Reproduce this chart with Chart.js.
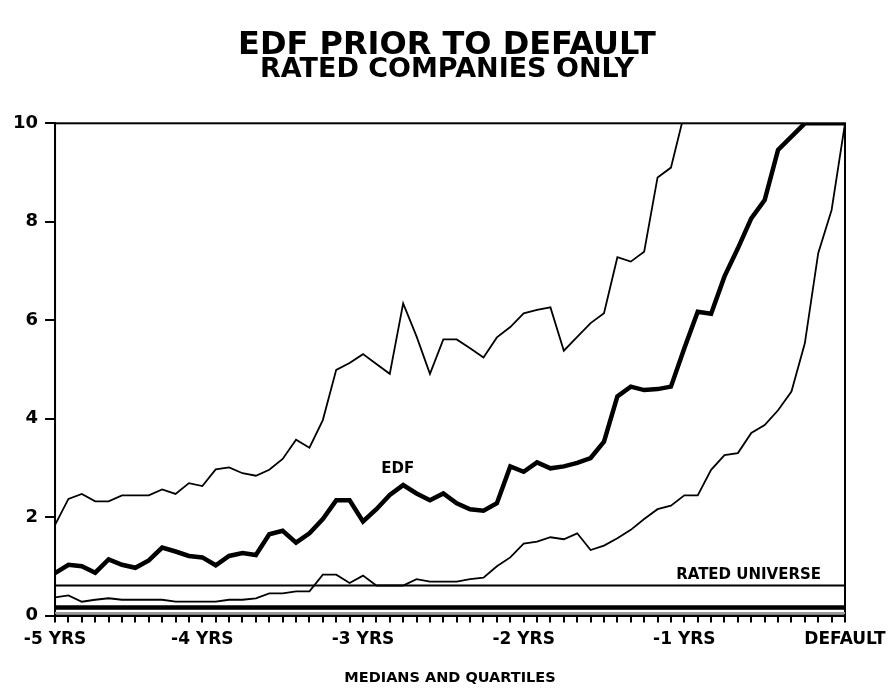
<!DOCTYPE html>
<html>
<head>
<meta charset="utf-8">
<title>EDF Prior To Default</title>
<script src="https://cdn.jsdelivr.net/npm/chart.js@4.4.1/dist/chart.umd.min.js"></script>
<style>
    body { margin: 0; background: #ffffff; }
    #wrap { width: 888px; height: 688px; }
</style>
</head>
<body>
<div id="wrap"><canvas id="edfChart"></canvas></div>
<script>
// months before default, one point per month
const months = [-59, -58, -57, -56, -55, -54, -53, -52, -51, -50,
                -49, -48, -47, -46, -45, -44, -43, -42, -41, -40,
                -39, -38, -37, -36, -35, -34, -33, -32, -31, -30,
                -29, -28, -27, -26, -25, -24, -23, -22, -21, -20,
                -19, -18, -17, -16, -15, -14, -13, -12, -11, -10,
                 -9,  -8,  -7,  -6,  -5,  -4,  -3,  -2,  -1,   0];

// upper quartile (runs off the top after about -12 months)
const upperQuartile = [1.84, 2.37, 2.47, 2.32, 2.32, 2.44, 2.44, 2.44, 2.56, 2.47,
                       2.69, 2.63, 2.97, 3.01, 2.89, 2.84, 2.96, 3.18, 3.57, 3.41,
                       3.97, 4.99, 5.13, 5.31, 5.11, 4.91, 6.34, 5.67, 4.91, 5.61,
                       5.61, 5.43, 5.24, 5.65, 5.86, 6.14, 6.21, 6.26, 5.38, 5.66,
                       5.94, 6.14, 7.28, 7.19, 7.39, 8.90, 9.10, 10.2, null, null,
                       null, null, null, null, null, null, null, null, null, null];

// median EDF (heavy line)
const medianEdf = [0.86, 1.03, 1.00, 0.87, 1.14, 1.03, 0.97, 1.12, 1.38, 1.30,
                   1.21, 1.18, 1.02, 1.21, 1.27, 1.23, 1.65, 1.72, 1.48, 1.67,
                   1.96, 2.34, 2.34, 1.91, 2.16, 2.45, 2.65, 2.48, 2.34, 2.48,
                   2.28, 2.16, 2.13, 2.28, 3.03, 2.92, 3.11, 2.99, 3.03, 3.10,
                   3.20, 3.53, 4.45, 4.65, 4.58, 4.60, 4.65, 5.43, 6.17, 6.13,
                   6.89, 7.46, 8.07, 8.44, 9.46, 9.73, 10, 10, 10, 10];

// lower quartile
const lowerQuartile = [0.37, 0.41, 0.28, 0.32, 0.35, 0.32, 0.32, 0.32, 0.32, 0.28,
                       0.28, 0.28, 0.28, 0.32, 0.32, 0.35, 0.45, 0.45, 0.49, 0.49,
                       0.83, 0.83, 0.66, 0.81, 0.61, 0.61, 0.61, 0.74, 0.69, 0.69,
                       0.69, 0.74, 0.77, 1.00, 1.18, 1.46, 1.50, 1.59, 1.55, 1.67,
                       1.33, 1.42, 1.57, 1.74, 1.96, 2.16, 2.23, 2.44, 2.44, 2.96,
                       3.26, 3.30, 3.71, 3.87, 4.17, 4.55, 5.53, 7.36, 8.24, 10];

// flat reference lines across the whole window
const refMonths = [-59, 0];
const ratedUniverse = [0.61, 0.61];
const universeMedian = [0.16, 0.16];
const universeLower = [0.05, 0.05];

// axis ticks
const yTicks = [0, 2, 4, 6, 8, 10];
const xTickMonths = [-59, -48, -36, -24, -12, 0];
const xTickLabels = ['-5 YRS', '-4 YRS', '-3 YRS', '-2 YRS', '-1 YRS', 'DEFAULT'];

const FONT = "'DejaVu Sans', 'Liberation Sans', sans-serif";

function toPoints(xs, ys) {
    return xs.map((x, i) => ({ x: x, y: ys[i] }));
}

function lineSet(label, xs, ys, width, color) {
    return {
        label: label,
        data: toPoints(xs, ys),
        borderColor: color,
        borderWidth: width,
        pointRadius: 0,
        tension: 0,
        fill: false,
        spanGaps: false
    };
}

// box round the plot and the two text notes
const notesPlugin = {
    id: 'notes',
    beforeDatasetsDraw(chart) {
        const a = chart.chartArea;
        const ctx = chart.ctx;
        ctx.save();
        ctx.strokeStyle = '#000';
        ctx.lineWidth = 2;
        ctx.strokeRect(a.left, a.top, a.right - a.left, a.bottom - a.top);
        ctx.restore();
    },
    afterDatasetsDraw(chart) {
        const ctx = chart.ctx;
        const x = chart.scales.x, y = chart.scales.y;
        ctx.save();
        ctx.fillStyle = '#000';
        ctx.textAlign = 'center';
        ctx.textBaseline = 'middle';
        ctx.font = "bold 15px " + FONT;
        ctx.fillText('EDF', x.getPixelForValue(-33.4), y.getPixelForValue(2.97));
        ctx.font = "bold 15px " + FONT;
        ctx.fillText('RATED UNIVERSE', x.getPixelForValue(-7.2), y.getPixelForValue(0.83));
        ctx.restore();
    }
};

function createChart() {
    const context = document.getElementById('edfChart').getContext('2d');
    const myChart = new Chart(context, {
        type: 'line',
        data: {
            datasets: [
                lineSet('Upper quartile', months, upperQuartile, 1.8, '#000'),
                lineSet('EDF', months, medianEdf, 4.5, '#000'),
                lineSet('Lower quartile', months, lowerQuartile, 1.8, '#000'),
                lineSet('Rated universe', refMonths, ratedUniverse, 1.8, '#000'),
                lineSet('Universe median', refMonths, universeMedian, 4.5, '#000'),
                lineSet('Universe lower', refMonths, universeLower, 2, '#9a9a9a')
            ]
        },
        options: {
            responsive: true,
            maintainAspectRatio: false,
            animation: false,
            layout: { padding: { left: 6, right: 0, top: 0, bottom: 0 } },
            plugins: {
                legend: { display: false },
                tooltip: { enabled: false },
                title: {
                    display: true,
                    text: 'EDF PRIOR TO DEFAULT',
                    color: '#000',
                    font: { family: FONT, size: 32, weight: 'bold', lineHeight: 0.7 },
                    padding: { top: 34, bottom: 0 }
                },
                subtitle: {
                    display: true,
                    text: 'RATED COMPANIES ONLY',
                    color: '#000',
                    font: { family: FONT, size: 27, weight: 'bold', lineHeight: 0.7 },
                    padding: { top: 4, bottom: 44 }
                }
            },
            scales: {
                x: {
                    type: 'linear',
                    min: -59,
                    max: 0,
                    afterBuildTicks: axis => { axis.ticks = months.map(v => ({ value: v })); },
                    // let the DEFAULT label hang past the frame like the original
                    afterFit: axis => { axis.paddingRight = 43; },
                    border: { display: true, color: '#000', width: 2 },
                    grid: { display: true, drawOnChartArea: false, drawTicks: true, tickLength: 7, color: '#000', lineWidth: 2 },
                    ticks: {
                        autoSkip: false,
                        maxRotation: 0,
                        minRotation: 0,
                        padding: 9,
                        color: '#000',
                        font: { family: FONT, size: 17, weight: 'bold', lineHeight: 1 },
                        callback: value => {
                            const k = xTickMonths.indexOf(value);
                            return k >= 0 ? xTickLabels[k] : '';
                        }
                    },
                    title: {
                        display: true,
                        text: 'MEDIANS AND QUARTILES',
                        color: '#000',
                        font: { family: FONT, size: 14.5, weight: 'bold', lineHeight: 1 },
                        padding: { top: 13, bottom: 3 }
                    }
                },
                y: {
                    min: 0,
                    max: 10,
                    afterBuildTicks: axis => { axis.ticks = yTicks.map(v => ({ value: v })); },
                    border: { display: true, color: '#000', width: 2 },
                    grid: { display: true, drawOnChartArea: false, drawTicks: true, tickLength: 10, color: '#000', lineWidth: 2 },
                    ticks: {
                        padding: 7,
                        color: '#000',
                        font: { family: FONT, size: 18, weight: 'bold', lineHeight: 1 }
                    }
                }
            }
        },
        plugins: [notesPlugin]
    });
    return myChart;
}

createChart();
</script>
</body>
</html>
